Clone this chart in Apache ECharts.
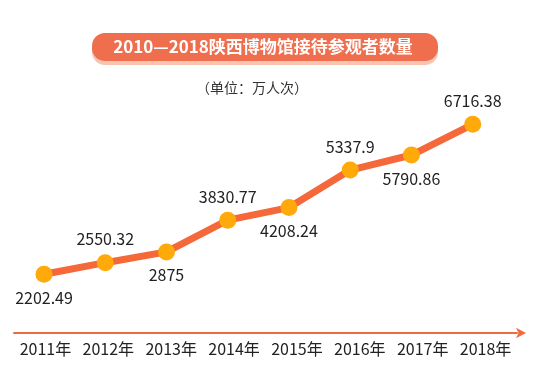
<!DOCTYPE html>
<html>
<head>
<meta charset="utf-8">
<script src="https://cdn.jsdelivr.net/npm/echarts@6/dist/echarts.min.js"></script>
<style>
html,body{margin:0;padding:0;background:#fff;}
#chart{width:550px;height:365px;}
</style>
</head>
<body>
<div id="chart"></div>
<script>
var titleText = '2010—2018陕西博物馆接待参观者数量';
var unitText = '（单位：万人次）';
var categories = ['2011年','2012年','2013年','2014年','2015年','2016年','2017年','2018年'];
var visitors = [2202.49, 2550.32, 2875, 3830.77, 4208.24, 5337.9, 5790.86, 6716.38];
var labelSides = ['bottom','top','bottom','top','bottom','top','bottom','top'];

var FONT = '"Noto Sans CJK SC", "Noto Sans", sans-serif';
var chart = echarts.init(document.getElementById('chart'), null, {renderer:'canvas'});

var seriesData = visitors.map(function (v, i) {
  return { value: v, label: { position: labelSides[i] } };
});

chart.setOption({
  backgroundColor: '#ffffff',
  animation: false,
  graphic: [
    {
      type: 'rect',
      shape: { x: 92, y: 33, width: 346, height: 28, r: 13 },
      style: { fill: '#EE6E4E', shadowColor: '#F8C4B2', shadowOffsetY: 4, shadowBlur: 0 }
    },
    {
      type: 'text',
      x: 263, y: 47,
      style: {
        text: titleText, fill: '#ffffff', font: 'bold 17px ' + FONT,
        align: 'center', verticalAlign: 'middle'
      }
    },
    {
      type: 'text',
      x: 252, y: 88,
      style: {
        text: unitText, fill: '#333333', font: '14px ' + FONT,
        align: 'center', verticalAlign: 'middle'
      }
    }
  ],
  grid: [
    { left: 44, right: 77.3, top: 81.6, height: 232.6 },
    { left: 14, width: 503, top: 300, bottom: 32 }
  ],
  xAxis: [
    { type: 'category', gridIndex: 0, data: categories, boundaryGap: false, show: false },
    {
      type: 'category', gridIndex: 1, data: categories, boundaryGap: true,
      axisLine: { show: true, symbol: ['none', 'arrow'], symbolSize: [8, 10], symbolOffset: [0, 9],
        lineStyle: { color: '#F06A3E', width: 2 } },
      axisTick: { show: false },
      axisLabel: { interval: 0, color: '#222222', fontSize: 16, fontFamily: FONT, margin: 8 },
      splitLine: { show: false }
    }
  ],
  yAxis: [
    { type: 'value', gridIndex: 0, min: 1000, max: 8000, show: false, splitLine: { show: false } },
    { type: 'value', gridIndex: 1, show: false, splitLine: { show: false } }
  ],
  series: [
    {
      type: 'line',
      xAxisIndex: 0, yAxisIndex: 0,
      data: seriesData,
      symbol: 'circle',
      symbolSize: 17,
      lineStyle: { color: '#F4683A', width: 7 },
      itemStyle: { color: '#FFA90A' },
      label: { show: true, distance: 7, color: '#222222', fontSize: 16, fontFamily: FONT }
    }
  ]
});
</script>
</body>
</html>
